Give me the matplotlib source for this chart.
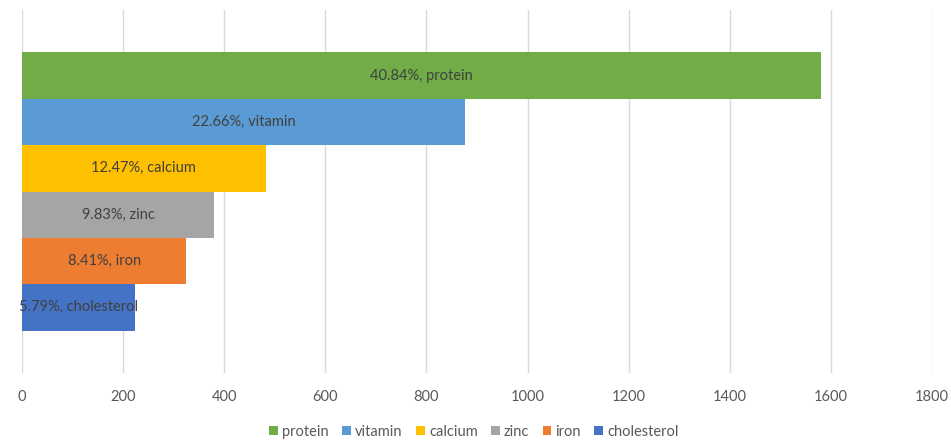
import matplotlib.pyplot as plt

# nutrient totals
nutrients = ["protein", "vitamin", "calcium", "zinc", "iron", "cholesterol"]
values = [1580, 876, 482, 380, 325, 224]
percents = ["40.84%", "22.66%", "12.47%", "9.83%", "8.41%", "5.79%"]
colors = ["#70AD47", "#5B9BD5", "#FFC000", "#A5A5A5", "#ED7D31", "#4472C4"]

plt.rcParams['font.family'] = ['Lato', 'DejaVu Sans']

fig = plt.figure(figsize=(9.51, 4.42), dpi=100)
ax = fig.add_axes([22 / 951, 69 / 442, 910 / 951, 363 / 442])

n = len(nutrients)
h = 0.766 / n
for i in range(n):
    y = 0.383 - h * (i + 0.5)
    ax.barh(y, values[i], height=h, color=colors[i], label=nutrients[i], zorder=3)
    ax.text(values[i] / 2, y, percents[i] + ", " + nutrients[i],
            ha="center", va="center", fontsize=10.5, color="#404040", zorder=4)

ax.set_xlim(0, 1800)
ax.set_ylim(-0.5, 0.5)
ax.set_xticks(range(0, 1801, 200))
ax.set_yticks([])
ax.grid(axis="x", color="#D9D9D9", linewidth=1, zorder=0)
for s in ax.spines.values():
    s.set_visible(False)
ax.tick_params(axis="x", length=0, pad=12, labelsize=10.5, labelcolor="#595959")

fig.legend(loc="center", bbox_to_anchor=(474 / 951, 1 - 432 / 442), ncol=n,
           frameon=False, fontsize=10.5, handlelength=0.6, handleheight=0.6,
           handletextpad=0.3, columnspacing=0.9, labelcolor="#595959")

fig.savefig("out.png", dpi=100)
